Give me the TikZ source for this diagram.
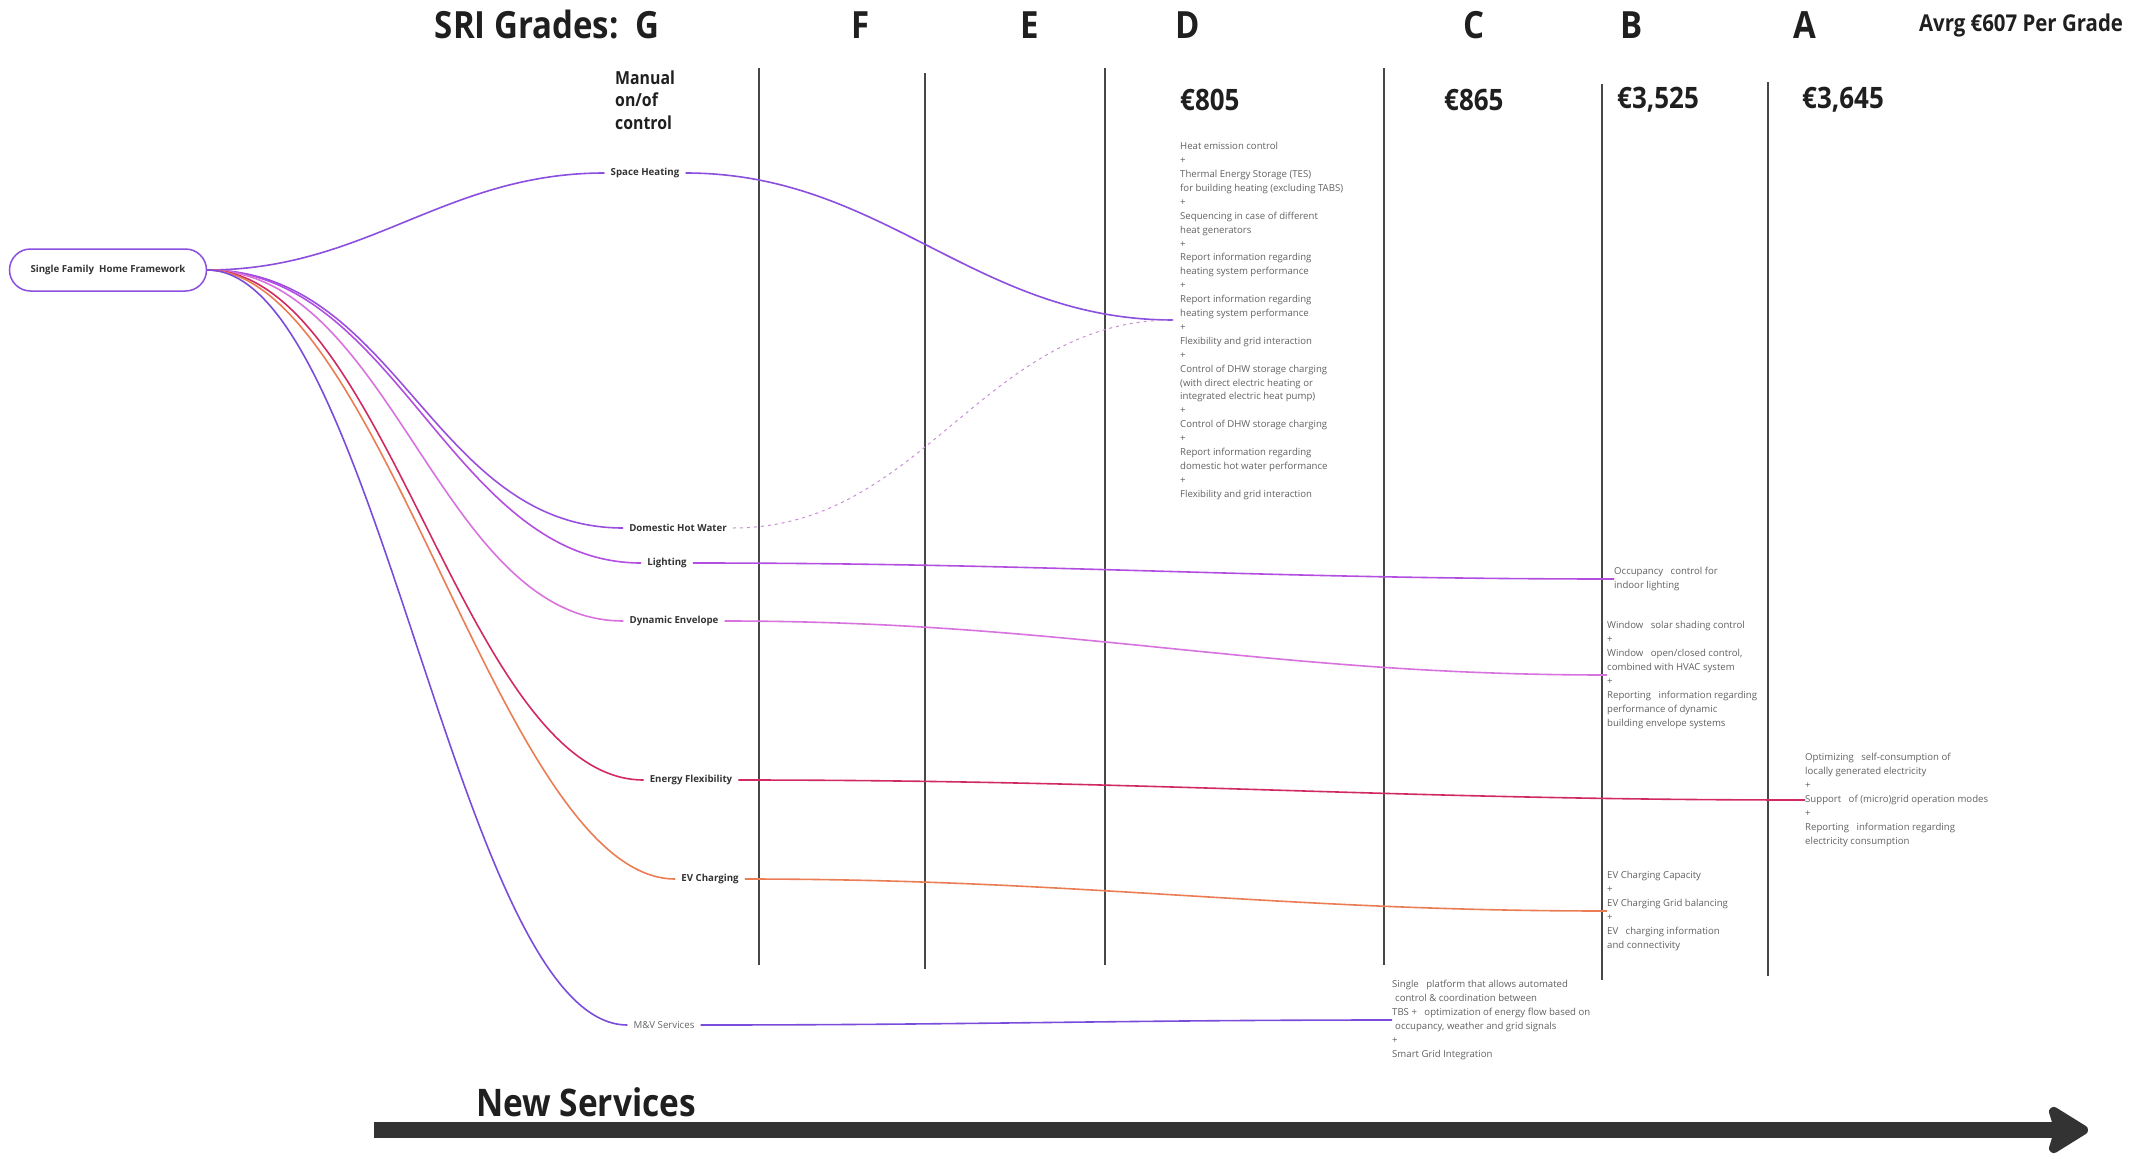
\documentclass[tikz,border=0pt]{standalone}
\usepackage{fontspec}
\setmainfont{Open Sans}
\newfontfamily\headfont[FakeStretch=0.88]{Open Sans}
\usetikzlibrary{arrows.meta}

\definecolor{heatcol}{HTML}{8B4FE0}
\definecolor{dhwcol}{HTML}{9A50DC}
\definecolor{dotcol}{HTML}{C98ED6}
\definecolor{lightcol}{HTML}{B24FE0}
\definecolor{envcol}{HTML}{D872DE}
\definecolor{flexcol}{HTML}{D12A63}
\definecolor{evcol}{HTML}{EB7D55}
\definecolor{mvcol}{HTML}{7A4CDB}
\definecolor{arrowcol}{HTML}{333333}

\tikzset{
  grade/.style={font=\headfont\bfseries\fontsize{37.5}{42}\selectfont, text=black!88, inner sep=0pt},
  price/.style={font=\headfont\bfseries\fontsize{29.5}{33}\selectfont, text=black!88, inner sep=0pt, anchor=west},
  branch/.style={font=\fontsize{9.7}{11}\selectfont\bfseries, text=black!80, inner xsep=6pt},
  service/.style={font=\fontsize{9.6}{14.1}\selectfont, text=black!62, align=left, anchor=west, inner sep=0pt},
  gridline/.style={draw=black!72, line width=1.3pt},
  link/.style={line width=1.6pt},
}

\begin{document}
\begin{tikzpicture}[x=1pt, y=-1pt]
    \useasboundingbox (0,0) rectangle (2134,1159);

    % grade headers
    \node[grade, anchor=east] (gradeG) at (660,25) {SRI Grades:\ \ G};
    \node[grade] (gradeF) at (861,25) {F};
    \node[grade] (gradeE) at (1030,25) {E};
    \node[grade] (gradeD) at (1188,25) {D};
    \node[grade] (gradeC) at (1474,25) {C};
    \node[grade] (gradeB) at (1632,25) {B};
    \node[grade] (gradeA) at (1805,25) {A};
    \node[font=\headfont\bfseries\fontsize{23.2}{27}\selectfont, text=black!88, inner sep=0pt] (avrg) at (2021,25) {Avrg €607 Per Grade};

    \node[font=\headfont\bfseries\fontsize{18}{22.5}\selectfont, text=black!88, align=left, anchor=west, inner sep=0pt] (manual) at (615,100) {Manual\\on/of\\control};
    \node[price] (priceD) at (1180,100) {€805};
    \node[price] (priceC) at (1444,100) {€865};
    \node[price] (priceB) at (1617,100) {€3,525};
    \node[price] (priceA) at (1802,100) {€3,645};

    % grade columns
    \foreach \gx/\gtop/\gbot in {759/68/965, 925/73/969, 1105/68/965, 1384/68/965, 1602/84/980, 1768/82/976}
        \draw[gridline] (\gx,\gtop) -- (\gx,\gbot);

    % root and branches
    \node[draw=heatcol, line width=1.5pt, rounded corners=21pt, minimum width=197pt, minimum height=42pt,
          font=\fontsize{9.7}{11}\selectfont\bfseries, text=black!80] (root) at (108,270) {Single Family\ \ Home Framework};

    \node[branch] (heat) at (645,173) {Space Heating};
    \node[branch] (dhw) at (678,528) {Domestic Hot Water};
    \node[branch] (light) at (667,563) {Lighting};
    \node[branch] (env) at (674,621) {Dynamic Envelope};
    \node[branch] (flex) at (691,780) {Energy Flexibility};
    \node[branch] (ev) at (710,879) {EV Charging};
    \node[branch, font=\fontsize{9.7}{11}\selectfont, text=black!60] (mv) at (664,1025) {M\&V Services};

    % services per grade
    \node[service, font=\fontsize{9.6}{13.9}\selectfont] (heatText) at (1180,321) {Heat emission control\\+\\Thermal Energy Storage (TES)\\for building heating (excluding TABS)\\+\\Sequencing in case of different\\heat generators\\+\\Report information regarding\\heating system performance\\+\\Report information regarding\\heating system performance\\+\\Flexibility and grid interaction\\+\\Control of DHW storage charging\\(with direct electric heating or\\integrated electric heat pump)\\+\\Control of DHW storage charging\\+\\Report information regarding\\domestic hot water performance\\+\\Flexibility and grid interaction};
    \coordinate (heatIn) at (1173,320);
    \node[service] (lightText) at (1614,579) {Occupancy\ \ \ control for\\indoor lighting};
    \node[service] (envText) at (1607,675) {Window\ \ \ solar shading control\\+\\Window\ \ \ open/closed control,\\combined with HVAC system\\+\\Reporting\ \ \ information regarding\\performance of dynamic\\building envelope systems};
    \node[service] (flexText) at (1805,800) {Optimizing\ \ \ self-consumption of\\locally generated electricity\\+\\Support\ \ \ of (micro)grid operation modes\\+\\Reporting\ \ \ information regarding\\electricity consumption};
    \node[service] (evText) at (1607,911) {EV Charging Capacity\\+\\EV Charging Grid balancing\\+\\EV\ \ \ charging information\\and connectivity};
    \node[service] (mvText) at (1392,1020) {Single\ \ \ platform that allows automated\\\hspace{3pt}control \& coordination between\\TBS +\ \ \ optimization of energy flow based on\\\hspace{3pt}occupancy, weather and grid signals\\+\\Smart Grid Integration};

    % root to branches
    \draw[link, heatcol] (root.east) to[out=0, in=180] (heat.west);
    \draw[link, dhwcol] (root.east) to[out=0, in=180] (dhw.west);
    \draw[link, lightcol] (root.east) .. controls +(190,0) and +(-190,0) .. (light.west);
    \draw[link, envcol] (root.east) .. controls +(185,0) and +(-185,0) .. (env.west);
    \draw[link, flexcol] (root.east) .. controls +(180,0) and +(-180,0) .. (flex.west);
    \draw[link, evcol] (root.east) .. controls +(175,0) and +(-175,0) .. (ev.west);
    \draw[link, mvcol] (root.east) .. controls +(170,0) and +(-170,0) .. (mv.west);

    % branches to services (long ones with explicit controls)
    \draw[link, heatcol] (heat.east) to[out=0, in=180] (heatIn);
    \draw[line width=1pt, dotcol, dash pattern=on 3pt off 4pt] (dhw.east) to[out=0, in=180] (heatIn);
    \draw[link, lightcol] (light.east) .. controls +(360,0) and +(-360,0) .. (lightText.west);
    \draw[link, envcol] (env.east) .. controls +(345,0) and +(-345,0) .. (envText.west);
    \draw[link, flexcol] (flex.east) .. controls +(415,0) and +(-415,0) .. (flexText.west);
    \draw[link, evcol] (ev.east) .. controls +(335,0) and +(-335,0) .. (evText.west);
    \draw[link, mvcol] (mv.east) .. controls +(270,0) and +(-270,0) .. (mvText.west);

    % timeline
    \node[font=\headfont\bfseries\fontsize{38}{42}\selectfont, text=black!88, inner sep=0pt, anchor=west] (newServ) at (476,1102) {New Services};
    \draw[line width=16pt, arrowcol, -{Stealth[length=46pt, width=56pt, inset=8pt, round]}] (374,1130) -- (2088,1130);

\end{tikzpicture}
\end{document}
